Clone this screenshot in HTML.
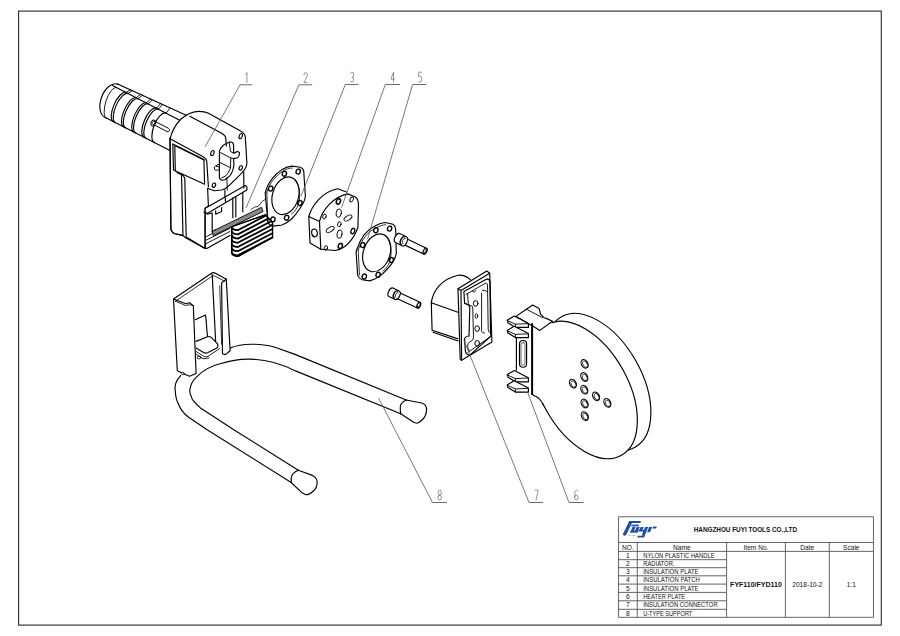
<!DOCTYPE html>
<html><head><meta charset="utf-8">
<style>
html,body{margin:0;padding:0;background:#fff;width:900px;height:636px;overflow:hidden}
svg{display:block}
.t{font-family:"Liberation Sans",sans-serif;fill:#111}
.k{fill:none;stroke:#000;stroke-width:1.15;stroke-linejoin:round;stroke-linecap:round}
.g{fill:none;stroke:#777;stroke-width:0.7}
.lb{font-family:"Liberation Sans",sans-serif;fill:#888;font-size:11px}
</style></head>
<body>
<svg width="900" height="636" viewBox="0 0 900 636">
<!-- border -->
<rect x="18.6" y="11.1" width="862.7" height="614" fill="none" stroke="#303030" stroke-width="1.15"/>

<!-- title block -->
<g id="tb" fill="none" stroke="#555" stroke-width="0.9">
<rect x="618.6" y="516.8" width="254.8" height="100.5"/>
<path d="M618.6 542.5H873.4M618.6 551.4H873.4M618.6 559.7H726.6M618.6 567.7H726.6M618.6 575.8H726.6M618.6 584.1H726.6M618.6 592.4H726.6M618.6 600.8H726.6M618.6 609.3H726.6M637.3 542.5V617.3M726.6 542.5V617.3M785.4 542.5V617.3M829.3 542.5V617.3"/>
</g>
<g class="t" font-size="6.6" text-anchor="middle">
<text x="627.9" y="549.6">NO.</text>
<text x="681.9" y="549.6">Name</text>
<text x="756" y="549.6">Item No.</text>
<text x="807.3" y="549.6">Date</text>
<text x="851.3" y="549.6">Scale</text>
<text x="627.9" y="558">1</text>
<text x="627.9" y="566">2</text>
<text x="627.9" y="574.1">3</text>
<text x="627.9" y="582.3">4</text>
<text x="627.9" y="590.6">5</text>
<text x="627.9" y="599">6</text>
<text x="627.9" y="607.4">7</text>
<text x="627.9" y="615.7">8</text>
<text x="807.3" y="587">2018-10-2</text>
<text x="851.3" y="587">1:1</text>
</g>
<g class="t" font-size="6.6">
<text x="643.2" y="558" textLength="71.4" lengthAdjust="spacingAndGlyphs">NYLON PLASTIC HANDLE</text>
<text x="643.2" y="566" textLength="31.3" lengthAdjust="spacingAndGlyphs">RADIATOR.</text>
<text x="643.2" y="574.1" textLength="55.4" lengthAdjust="spacingAndGlyphs">INSULATION PLATE</text>
<text x="643.2" y="582.3" textLength="56.7" lengthAdjust="spacingAndGlyphs">INSULATION PATCH</text>
<text x="643.2" y="590.6" textLength="55.4" lengthAdjust="spacingAndGlyphs">INSULATION PLATE</text>
<text x="643.2" y="599" textLength="42.0" lengthAdjust="spacingAndGlyphs">HEATER PLATE</text>
<text x="643.2" y="607.4" textLength="74.5" lengthAdjust="spacingAndGlyphs">INSULATION CONNECTOR</text>
<text x="643.2" y="615.7" textLength="49.1" lengthAdjust="spacingAndGlyphs">U-TYPE SUPPORT</text>
</g>
<text class="t" x="756" y="587" font-size="7" font-weight="bold" text-anchor="middle">FYF110/FYD110</text>
<text class="t" x="693.7" y="532.4" font-size="7" font-weight="bold" fill="#111" textLength="103.3" lengthAdjust="spacingAndGlyphs">HANGZHOU FUYI TOOLS CO.,LTD</text>
<g id="logo" fill="#1d50a5">
<path d="M629.40 521.00L641.00 520.90L640.40 523.00L628.50 523.10Z"/>
<path d="M629.40 521.00L633.00 521.00L626.00 535.25L624.00 535.75L622.75 534.25Z"/>
<path d="M631.75 524.75L639.00 524.60L638.50 526.35L631.10 526.50Z"/>
<path d="M632.50 527.00L635.60 527.00L633.40 532.50L630.25 532.50Z"/>
<path d="M636.60 527.00L639.70 527.00L637.50 532.50L634.35 532.50Z"/>
<path d="M630.50 530.75L637.75 530.75L637.25 532.50L630.00 532.50Z"/>
<path d="M640.60 527.00L643.70 527.00L641.90 531.00L638.80 531.00Z"/>
<path d="M645.10 527.00L648.20 527.00L644.10 537.60L637.25 537.60L638.00 535.60L641.50 535.60Z"/>
<path d="M639.00 529.75L646.25 529.75L645.50 531.50L638.25 531.50Z"/>
<path d="M649.10 527.00L652.20 527.00L650.10 532.10L647.00 532.50Z"/>
<path d="M653.00 526.40L656.90 526.40L656.10 528.50L652.40 528.50Z"/>
<path d="M628.2 534.3h14.2v1.5h-14.2z" fill="#fff"/>
<text x="628.4" y="535.9" font-family="Liberation Sans" font-size="2.2" fill="#555" textLength="13.8" lengthAdjust="spacingAndGlyphs">F U Y I</text>
</g>

<!-- PARTS -->
<g id="parts" class="k">
<!-- part 1: handle cylinder -->
<path d="M117.6 84.1L190 117.0M105.4 117.6L170 150.5M112.5 85.5L184 122.4"/>
<path d="M117.60 84.10A17.83 10.8 110.0 0 0 105.40 117.60"/>
<path d="M116.20 87.41A16.10 5.5 107.9 0 0 106.30 118.06" stroke-width="0.9"/>
<path d="M126.10 92.52A15.90 6.2 113.5 0 0 113.40 121.68"/>
<path d="M126.10 92.52L130.30 89.88" stroke-width="0.9"/>
<path d="M128.00 93.50A15.90 6.2 113.5 0 0 115.30 122.65"/>
<path d="M128.00 93.50L132.20 90.74" stroke-width="0.9"/>
<path d="M136.20 97.73A15.88 6.2 113.4 0 0 123.60 126.88"/>
<path d="M136.20 97.73L140.40 94.47" stroke-width="0.9"/>
<path d="M138.10 98.71A15.87 6.2 113.4 0 0 125.50 127.85"/>
<path d="M138.10 98.71L142.30 95.34" stroke-width="0.9"/>
<path d="M146.30 102.94A15.86 6.2 113.2 0 0 133.80 132.08"/>
<path d="M146.30 102.94L150.50 99.07" stroke-width="0.9"/>
<path d="M148.20 103.92A15.85 6.2 113.2 0 0 135.70 133.05"/>
<path d="M148.20 103.92L152.40 99.93" stroke-width="0.9"/>
<path d="M156.40 108.15A15.83 6.2 113.1 0 0 144.00 137.29"/>
<path d="M156.40 108.15L160.60 103.66" stroke-width="0.9"/>
<path d="M158.30 109.13A15.83 6.2 113.1 0 0 145.90 138.25"/>
<path d="M158.30 109.13L162.50 104.53" stroke-width="0.9"/>
<path d="M166.00 113.11A15.85 6.8 111.3 0 0 154.50 142.64"/>
<path d="M166.00 113.11L170.20 108.03" stroke-width="0.9"/>
<!-- pin -->
<path d="M154.5 121.2L168.6 128.4A1.7 1.7 0 0 1 167 131.5L152.8 124.2Z" fill="#fff" stroke-width="0.95"/>
<ellipse cx="153.3" cy="123" rx="2.2" ry="3" transform="rotate(25 153.3 123)" fill="#fff" stroke-width="0.95"/>
<ellipse cx="153.6" cy="122.9" rx="1.2" ry="1.8" transform="rotate(25 153.6 122.9)" stroke-width="0.7"/>
<!-- body top -->
<path d="M170 139C172 131 176 124 181 119C187 114 193 111.4 199 111.4C203 111.4 206 112 208 113L240.6 131Q245 133.5 245.3 137L246.9 163.2Q246.5 168 242.2 172.6L229.6 185.2Q226 189 221.7 190L213.9 190.7L207.6 188.3L208.4 206L205.1 208.3L205.1 248.4L185.6 237.8L182.7 235.4L175 233.8Q171.5 232.5 170.9 229Z" fill="#fff"/>
<path d="M189.8 116.3L221.7 133.3Q225.5 135.5 225.7 138L226.4 145.9"/>
<path d="M169.6 138.4L203.6 156.9Q206.5 158.5 206.8 161.6L208.4 186.8"/>
<!-- screen window -->
<path d="M172.8 143.9L203.9 159.5L204.6 184.2L173.5 170.1Z"/>
<path d="M174.8 145.6L203.9 160.1M174.8 145.6L175.3 171"/>
<!-- slot -->
<path d="M229.7 142.1C226 143 222.5 146 222.6 146C220.5 148 219.6 150 219.4 151.5L219.4 177.5Q220 180 221.8 180.2L225 179.8L226.9 178.3"/>
<path d="M229.7 142.1Q232 141.8 232.8 142.9Q233.6 144 233.6 146L233.6 153.1L237.5 151.5Q239.8 152 239.5 153.5Q239.3 156 237.5 157.8L233.6 158.6C234.3 163 234 167 232.8 170.4C231.8 173 230.5 175 229.7 175.9L226.9 178.3"/>
<path d="M229.3 142.9L230.5 151.5L233.6 153.1M230.8 157.8L230.5 168Q228.5 173.5 225.7 175.9L221.8 177.9" stroke-width="0.95"/>
<path d="M219.8 152.3L230.5 157.8L233.6 158.6M219.8 162.5L229.7 167.3" stroke-width="0.95"/>
<path d="M219.4 164.1L215.9 165.7Q214 167 214.3 168Q215 170.5 216.3 170.4L219.4 169.6M216.5 166.5L219.4 167" stroke-width="0.95"/>
<path d="M226.9 178.3L227.3 190" stroke-width="0.9"/>
<ellipse cx="240.7" cy="136.1" rx="1.5" ry="2.7" transform="rotate(20 240.7 136.1)"/>
<ellipse cx="212.4" cy="153.1" rx="1.5" ry="2.7" transform="rotate(20 212.4 153.1)"/>
<ellipse cx="240.7" cy="167.9" rx="1.6" ry="2.2" transform="rotate(20 240.7 167.9)"/>
<ellipse cx="213.9" cy="185.2" rx="1.6" ry="2.2" transform="rotate(20 213.9 185.2)"/>
<!-- lower body -->
<path d="M170 139L170.9 229Q171.5 232.5 175 233.8L182.7 235.4"/>
<path d="M177 172.7L183.3 175.6L184.8 178.4L186.2 237.1L205.1 248.4L206.9 248.4L229.9 235.4"/>
<path d="M181.5 174.5L183 235.8"/>
<path d="M205.1 248.4L205.1 213L203.9 211.8"/>
<path d="M205.3 208.3L245.2 185.5Q247.8 186.5 246.8 190L207.3 213.6Q204.5 212.8 205.3 208.3Z" fill="#fff"/>
<path d="M225.1 197L225.5 201.5M224.9 190L224.9 197"/>
<path d="M207.5 214.2L212.2 213L212.2 231.9M215.7 214.2L215.7 210.7M221.6 211.5L221.6 207.5M215.7 214.2L221.6 211.5M212.2 231.9L216 229.5"/>
<path d="M232.8 197.7L232.8 217.7M235.8 197.1L235.8 217M242.8 193L242.8 211.8M243.7 172L243.9 188"/>
<path d="M206.3 236.6L229.9 224.8M206.3 240.1L229.9 228.3M205.3 244L229.9 231.5" stroke-width="0.9"/>
<!-- part 2: radiator -->
<path d="M212.6 231.2L261.5 207.3L263 211.5L213.5 235.5Z" fill="#8a8a8a" stroke-width="0.9"/>
<path d="M231.7 226.7L265.4 214.9L272.5 222.7L272.5 237.4L238 256.5Q232 256 231.7 252.5Z" fill="#fff"/>
<g stroke-width="1.8">
<path d="M231.7 226.8Q232 230.0 237.8 230.2L266.0 215.5"/>
<path d="M231.7 231.0Q232 234.2 237.8 234.4L268.6 218.4"/>
<path d="M231.7 235.2Q232 238.4 237.8 238.6L271.2 221.2"/>
<path d="M231.7 239.4Q232 242.6 237.8 242.8L272.5 224.8"/>
<path d="M231.7 243.6Q232 246.8 237.8 247.0L272.5 229.0"/>
<path d="M231.7 247.8Q232 251.0 237.8 251.2L272.5 233.2"/>
<path d="M231.7 252.0Q232 255.2 237.8 255.4L272.5 237.4"/>
</g>
<path d="M231.7 226.7L265.4 214.9L272.5 222.7L272.5 237.4L238 256.5Q232 256 231.7 252.5Z"/>
<path d="M251 209.5Q254 206 258 206.5M258.5 206.2L262 201.5L266 199" stroke-width="0.8"/>
<!-- part 3 -->
<path d="M265.2 193C267 186 269.5 182 272.3 178.7C275.5 174.5 278.5 172 282.2 169.4C285.5 167.3 288.5 166.3 292.1 166.1L300.4 167.2Q303 168 303.7 171L305.4 196.3Q305 200 303 203.5L299.9 208.5C297 213 294 216.5 291 219.5C288 222 285 224 282.2 225L273.4 226.1Q270 225.5 267.9 222.8Z"/>
<path d="M266.8 193C268.5 186.5 271 182.5 273.8 179.5C277 175.5 280 173 283.5 170.8C286.5 168.9 289.5 168 292.5 168M266.8 193L267.9 221.7" stroke-width="0.8"/>
<ellipse cx="285.5" cy="195.8" rx="13" ry="19.3" transform="rotate(17 285.5 195.8)"/>
<path d="M293.8 178.5C298 183 300 190 299.6 198C299 205 296 211 291.5 214" stroke-width="0.8"/>
<g stroke-width="1.35">
<ellipse cx="284.4" cy="173.8" rx="2.1" ry="2.5" transform="rotate(20 284.4 173.8)"/>
<ellipse cx="298.2" cy="171.6" rx="2.1" ry="2.5" transform="rotate(20 298.2 171.6)"/>
<ellipse cx="270.7" cy="188.6" rx="2.1" ry="2.5" transform="rotate(20 270.7 188.6)"/>
<ellipse cx="299.9" cy="203" rx="2.1" ry="2.5" transform="rotate(20 299.9 203)"/>
<ellipse cx="272.9" cy="219.5" rx="2.1" ry="2.5" transform="rotate(20 272.9 219.5)"/>
<ellipse cx="286.6" cy="217.8" rx="2.1" ry="2.5" transform="rotate(20 286.6 217.8)"/>
</g>
<!-- part 4 -->
<path d="M308.8 216.5C312 205 322 192 337.7 188.8L346.5 192"/>
<path d="M308.8 216.5L319.5 221.5L320.8 249.2L310 243Z"/>
<path d="M319.5 221.5C322 210 333 197 347.8 193.9L355.3 197Q358.5 199 358.5 205L357.9 227.8C353 240 345 249 335.2 250.5L320.8 249.2"/>
<ellipse cx="314.5" cy="232.9" rx="2.8" ry="3.9" transform="rotate(-10 314.5 232.9)"/>
<g stroke-width="0.9">
<ellipse cx="339.3" cy="224.2" rx="1.7" ry="2.6" transform="rotate(15 339.3 224.2)"/>
<ellipse cx="338.7" cy="213.2" rx="2.6" ry="4.2" transform="rotate(8 338.7 213.2)"/>
<ellipse cx="339.5" cy="234.2" rx="2.5" ry="4.2" transform="rotate(8 339.5 234.2)"/>
<ellipse cx="330.2" cy="229.5" rx="2.1" ry="4.5" transform="rotate(58 330.2 229.5)"/>
<ellipse cx="348" cy="218" rx="2.1" ry="4.5" transform="rotate(58 348 218)"/>
<ellipse cx="338.4" cy="201.4" rx="2" ry="2.8" transform="rotate(20 338.4 201.4)" stroke-width="1.5"/>
<ellipse cx="351.6" cy="199.5" rx="1.6" ry="2.6" transform="rotate(25 351.6 199.5)"/>
<ellipse cx="324.5" cy="216.5" rx="1.6" ry="2.6" transform="rotate(20 324.5 216.5)"/>
<ellipse cx="352.8" cy="231" rx="1.8" ry="2.8" transform="rotate(20 352.8 231)" stroke-width="1.3"/>
<ellipse cx="325.8" cy="248" rx="1.6" ry="2.4" transform="rotate(20 325.8 248)"/>
<ellipse cx="340.3" cy="246" rx="2" ry="2.6" transform="rotate(20 340.3 246)" stroke-width="1.5"/>
</g>
<!-- part 5 -->
<path d="M356.6 250C358.5 244 361 239 364.3 234.6C367.5 230.5 371 228 375.3 225.8C378.5 224 381.5 222.8 385.2 222.5L393 224.2Q395.2 225.5 395.7 229.1L396.3 253.3Q395.5 258.5 391.9 263.3C389 267.5 385 271.5 380.8 275.4C377.5 278 373.5 280 369.8 280.9L362.1 279.8Q359 278.5 357.7 275.4L356.1 252.2Z"/>
<path d="M358.2 250C360 244.5 362.5 240 365.7 236C369 232 372.5 229.5 376.5 227.6C379.5 226 382.5 225 385.5 224.7M358.2 250L359.5 275" stroke-width="0.8"/>
<ellipse cx="376.7" cy="252.8" rx="13.3" ry="19.5" transform="rotate(19 376.7 252.8)"/>
<path d="M385.5 235.5C389.5 240 391.5 247 391 255C390.5 262 387.5 268 383 271" stroke-width="0.8"/>
<g stroke-width="1.35">
<ellipse cx="375.9" cy="230.2" rx="2.1" ry="2.5" transform="rotate(20 375.9 230.2)"/>
<ellipse cx="389.6" cy="228.6" rx="2.1" ry="2.5" transform="rotate(20 389.6 228.6)"/>
<ellipse cx="362.7" cy="245.1" rx="2.1" ry="2.5" transform="rotate(20 362.7 245.1)"/>
<ellipse cx="391.3" cy="260" rx="2.1" ry="2.5" transform="rotate(20 391.3 260)"/>
<ellipse cx="364.3" cy="276.5" rx="2.1" ry="2.5" transform="rotate(20 364.3 276.5)"/>
<ellipse cx="378.1" cy="274.8" rx="2.1" ry="2.5" transform="rotate(20 378.1 274.8)"/>
</g>
<!-- screw 1 -->
<path d="M405.65 238.34L426.38 248.21A3.2 1.76 115.5 0 1 423.62 253.99L402.89 244.11Z" fill="#fff"/>
<ellipse cx="425.00" cy="251.10" rx="3.20" ry="1.76" transform="rotate(115.5 425.00 251.10)" stroke-width="0.9"/>
<ellipse cx="424.73" cy="250.97" rx="1.92" ry="1.06" transform="rotate(115.5 424.73 250.97)" stroke-width="0.6"/>
<path d="M399.65 233.49L406.42 236.71A5.0 2.75 115.5 0 1 402.12 245.74L395.35 242.51A5.0 2.75 115.5 0 1 399.65 233.49Z" fill="#fff"/>
<path d="M404.72 236.79A4.20 2.31 115.5 0 0 401.11 244.37" stroke-width="1.4"/>
<path d="M405.39 238.40A3.03 1.67 115.5 0 0 402.79 243.87" stroke-width="0.8"/>
<!-- screw 2 -->
<path d="M398.49 292.32L420.03 302.34A3.15 1.73 115.0 0 1 417.37 308.06L395.83 298.03Z" fill="#fff"/>
<ellipse cx="418.70" cy="305.20" rx="3.15" ry="1.73" transform="rotate(115.0 418.70 305.20)" stroke-width="0.9"/>
<ellipse cx="418.43" cy="305.07" rx="1.89" ry="1.04" transform="rotate(115.0 418.43 305.07)" stroke-width="0.6"/>
<path d="M392.98 288.04L399.15 290.91A4.7 2.59 115.0 0 1 395.18 299.43L389.02 296.56A4.7 2.59 115.0 0 1 392.98 288.04Z" fill="#fff"/>
<path d="M397.45 291.00A3.90 2.15 115.0 0 0 394.16 298.07" stroke-width="1.4"/>
<path d="M398.14 292.61A2.73 1.50 115.0 0 0 395.83 297.56" stroke-width="0.8"/>
<!-- part 6 heater plate -->
<ellipse cx="598.1" cy="382.1" rx="74.97" ry="43.33" transform="rotate(60.46 598.1 382.1)" fill="#fff"/>
<ellipse cx="584.56" cy="389.92" rx="74.97" ry="43.33" transform="rotate(60.46 584.56 389.92)" fill="#fff"/>
<g stroke-width="1.1">
<ellipse cx="584.6" cy="363.8" rx="3.2" ry="4.6" transform="rotate(-28 584.6 363.8)"/>
<ellipse cx="584.3" cy="377" rx="3.2" ry="4.6" transform="rotate(-28 584.3 377)"/>
<ellipse cx="572.9" cy="383.6" rx="3.2" ry="4.6" transform="rotate(-28 572.9 383.6)"/>
<ellipse cx="584.3" cy="389.7" rx="3.2" ry="4.6" transform="rotate(-28 584.3 389.7)"/>
<ellipse cx="596.1" cy="396.3" rx="3.2" ry="4.6" transform="rotate(-28 596.1 396.3)"/>
<ellipse cx="607.4" cy="402.9" rx="3.2" ry="4.6" transform="rotate(-28 607.4 402.9)"/>
<ellipse cx="584.6" cy="403.5" rx="3.2" ry="4.6" transform="rotate(-28 584.6 403.5)"/>
<ellipse cx="584.8" cy="416.1" rx="3.2" ry="4.6" transform="rotate(-28 584.8 416.1)"/>
</g>
<g stroke-width="0.7">
<ellipse cx="585.1" cy="364.2" rx="2.2" ry="3.5" transform="rotate(-28 585.1 364.2)"/>
<ellipse cx="584.8" cy="377.4" rx="2.2" ry="3.5" transform="rotate(-28 584.8 377.4)"/>
<ellipse cx="573.4" cy="384.0" rx="2.2" ry="3.5" transform="rotate(-28 573.4 384.0)"/>
<ellipse cx="584.8" cy="390.1" rx="2.2" ry="3.5" transform="rotate(-28 584.8 390.1)"/>
<ellipse cx="596.6" cy="396.7" rx="2.2" ry="3.5" transform="rotate(-28 596.6 396.7)"/>
<ellipse cx="607.9" cy="403.3" rx="2.2" ry="3.5" transform="rotate(-28 607.9 403.3)"/>
<ellipse cx="585.1" cy="403.9" rx="2.2" ry="3.5" transform="rotate(-28 585.1 403.9)"/>
<ellipse cx="585.3" cy="416.5" rx="2.2" ry="3.5" transform="rotate(-28 585.3 416.5)"/>
</g>
<!-- bracket -->
<path d="M516.4 330L530.5 324.7L552.5 321.2L548 335L543.1 404.5L534.4 395.8L532.1 394.3L516.4 372Z" fill="#fff" stroke="none"/>
<path d="M515.7 316.6L526.4 309.2L532.7 305L539.1 308.5L540.5 314.2L544 317.7L546.2 318.4L552.5 321.2L539.8 330.4L532 325.5L527.8 323.4Z" fill="#fff"/>
<path d="M515.7 316.6L527.8 323.4" stroke-width="1.4"/>
<path d="M526.4 309.2L542.6 317.7" stroke-width="0.9"/>
<path d="M532.1 324L532.1 394.3" stroke-width="2"/>
<path d="M516.4 337.9L516.4 370M532.1 394.3L534.4 395.8C538 397 540.5 399 543.1 404.5"/>
<rect x="519.5" y="340.5" width="7.1" height="26.7" rx="3.5"/>
<rect x="521" y="342.5" width="4" height="22.7" rx="2" stroke-width="0.6"/>
<path d="M507.2 320.2L514.3 316.1L528.3 323.4L528.5 327.4L515.4 327.4L508.0 322.8Z" fill="#fff"/>
<path d="M507.4 320.6L515.4 324.2L528.5 323.6M515.4 324.2L515.4 327.4" stroke-width="0.9"/>
<path d="M507.2 330.4L514.3 326.3L528.3 333.6L528.5 337.6L515.4 337.6L508.0 333.0Z" fill="#fff"/>
<path d="M507.4 330.8L515.4 334.4L528.5 333.8M515.4 334.4L515.4 337.6" stroke-width="0.9"/>
<path d="M507.2 374.6L514.3 370.5L528.3 377.8L528.5 381.8L515.4 381.8L508.0 377.2Z" fill="#fff"/>
<path d="M507.4 375.0L515.4 378.6L528.5 378.0M515.4 378.6L515.4 381.8" stroke-width="0.9"/>
<path d="M507.2 384.9L514.3 380.8L528.3 388.1L528.5 392.1L515.4 392.1L508.0 387.5Z" fill="#fff"/>
<path d="M507.4 385.3L515.4 388.9L528.5 388.3M515.4 388.9L515.4 392.1" stroke-width="0.9"/>
<!-- part 7 insulation connector -->
<path d="M431.3 302.7C433 290 442 279 458 275.2Q465 274.5 470.6 279.9"/>
<path d="M431.3 302.7L432.1 330.3M431.3 302.7L458 312.2M432.1 330.3L458 338.9M433 332.3L458 341" />
<path d="M458 288.7L486.8 271L489.7 273.2L491.9 342L461.6 360.3L460.2 359.5Z" fill="#fff"/>
<path d="M458 288.7L461 290.4L489.7 273.2M461 290.4L461.6 360.3"/>
<path d="M463.9 291.6L486.8 279.1Q489.8 279 490 282L490.5 333L491 336L469.8 355.1Q466 355 465.3 350.7L464.6 338.9Q464.8 336.5 469 336L469.8 307.9Q469.5 304.5 464.6 303.4Z"/>
<path d="M466 294.5L485.8 283Q487.3 283 487.5 285L488.2 330Q488.5 332.5 491.2 333M467.6 293.8L468.3 303.4Q469 305.8 472.7 306.4L473.5 337.4Q473.5 340.5 469.8 341.9Q467.5 343 467.5 346.5L469 350.7" stroke-width="0.9"/>
<path d="M482.3 290.2Q485.5 289.5 486.8 291.6M481.6 293.1L481.6 331.5Q482 333 484.5 333M467.8 352.5L488.5 338" stroke-width="0.9"/>
<ellipse cx="475.7" cy="303.4" rx="2.3" ry="2.8" stroke-width="1"/>
<ellipse cx="476.4" cy="316" rx="1.3" ry="2.3" stroke-width="0.9"/>
<ellipse cx="477.2" cy="328.6" rx="2.3" ry="2.8" stroke-width="1"/>
<ellipse cx="477.2" cy="343.3" rx="2.3" ry="2.8" stroke-width="1"/>
<path d="M472.5 291.5Q474.2 293.5 476 290.5" stroke-width="0.9"/>

<!-- part 8 U support: tube -->
<path d="M180.7 375.6C176 380 174.5 386 175.2 389.7C175.5 396 176.5 400 177.6 402.3C180 409 184 414 188.6 417.3L207.5 430L291.2 482.5"/>
<path d="M298.3 470.2L234.2 430L201.2 408.6C195 403 191.5 399.5 191.7 397.6C189.5 393 189.5 390 190.2 388.2C191 383 193.5 380 196.4 377.2C203 370 211 366 220 363.8C230 360.5 240 359.1 248.3 359.1C265 359 280 363 295.5 370.9L400.7 413.8"/>
<path d="M230.3 348C238 344.5 245 344.2 251.5 344.2C260 344.2 268 345 275 347.3L295 354.4L406.2 400"/>
<path d="M406.2 400C402 402 400 405 400.3 407.5C400.2 410 400.4 412 400.7 413.8"/>
<path d="M406.2 400L422.7 403.2Q426.6 405 426.6 409.9Q426 416 423.5 418.5Q420 422.5 417.2 423.2L414 422.5L400.7 413.8"/>
<path d="M298.3 470.2C294 472 291.5 475 291.2 477.7L291.2 482.5"/>
<path d="M298.3 470.2L312.5 475.4Q317.2 478 317.2 482.5Q317 488 313.4 491Q309 495 305.8 494.7L302.1 492.8L291.2 482.5"/>
<!-- bracket -->
<path d="M173.5 299L211.5 273.3Q213.5 272 215.5 273.3L226.3 279.2L230.1 350.8L225.4 354.6L196.1 373.5L189.5 376.3L182.9 373.5L177.3 370.7Z" fill="#fff" stroke="none"/>
<path d="M173.5 299L211.5 273.3Q213.5 272 215.5 273.3L226.3 279.2"/>
<path d="M175.5 301.2L212 276.3Q213.7 275.3 215.3 276.3L224.5 281.3" stroke-width="0.8"/>
<path d="M173.5 299L177.3 370.7L182.9 373.5L189.5 376.3L196.1 373.5L193.3 305.6L189.5 302.7L185.8 303.7L173.5 299"/>
<path d="M175.5 301.2L185.8 305.6Q188 304.5 189.5 304.8L193.3 305.6" stroke-width="0.8"/>
<path d="M212.2 274.4L215.9 346.1"/>
<path d="M226.3 279.2L221.6 282.9L222.5 353.7L225.4 354.6L230.1 350.8L226.3 279.2"/>
<path d="M219.7 285.8L221.6 344.2" stroke-width="0.8"/>
<path d="M195.2 319.7L205.6 315L207.5 336.7"/>
<path d="M196.1 341.4L207.5 336.7Q209 336.2 211 337.2L217.8 344.2Q218.2 346.8 216.9 348L207.5 352.7Q205.5 353.5 203.5 352.5L196.1 348" fill="#fff"/>
<path d="M196.1 351.5L204 356.5Q206 357.3 208 356.3L219.7 348.5M196.1 354L203 358.8L209 358" stroke-width="0.85"/>
<ellipse cx="199" cy="357.5" rx="2" ry="1.4" stroke-width="0.8"/>
<circle cx="182.9" cy="373.5" r="1.3" stroke-width="0.8" fill="#fff"/>

</g>
<!-- labels -->
<g fill="none" stroke="#666" stroke-width="0.75" stroke-linecap="round" stroke-linejoin="round">
<path transform="translate(244.7 72.6) scale(0.85 1)" d="M1 1.6L2.6 0L2.6 10"/>
<path transform="translate(303.9 72.6) scale(0.85 1)" d="M0 2.2Q0.2 0 2 0Q4 0 4 2.5Q4 4.2 0 10L4 10"/>
<path transform="translate(350.3 72.2) scale(0.85 1)" d="M0 1Q0.8 0 2 0Q4 0 4 2.5Q4 5 1.8 5Q4 5 4 7.5Q4 10 2 10Q0.8 10 0 9"/>
<path transform="translate(391.0 72.2) scale(0.85 1)" d="M3 10L3 0L0 7L4 7"/>
<path transform="translate(418.3 72.2) scale(0.85 1)" d="M4 0L0.5 0L0.2 4.6Q1 4 2 4Q4 4 4 7Q4 10 2 10Q0.8 10 0 9"/>
<path transform="translate(438.0 490.1) scale(0.85 1)" d="M2 5Q0 5 0 2.5Q0 0 2 0Q4 0 4 2.5Q4 5 2 5Q0 5 0 7.5Q0 10 2 10Q4 10 4 7.5Q4 5 2 5"/>
<path transform="translate(534.9 490.1) scale(0.85 1)" d="M0 0L4 0L1.4 10"/>
<path transform="translate(574.7 490.1) scale(0.85 1)" d="M3.8 1Q3.2 0 2 0Q0 0 0 5L0 7.5Q0 10 2 10Q4 10 4 7.5Q4 5 2 5Q0 5 0 7.2"/>
</g>
<g fill="none" stroke="#555" stroke-width="0.8">
<path d="M240 84.8L205.1 146.8"/>
<path d="M298.9 84.8L246 208"/>
<path d="M345.3 84.5L301 196"/>
<path d="M385.3 84.5L341.5 207.7"/>
<path d="M412.6 84.5L367.6 238.9"/>
<path d="M432.5 502.5L378.6 398.1"/>
<path d="M529 502.5L463.7 339.6"/>
<path d="M569 502.5L527.5 392"/>
</g>
<g fill="none" stroke="#6a6a6a" stroke-width="1">
<path d="M252.2 84.8H240M312.2 84.8H298.9M358.5 84.5H345.3M400 84.5H385.3M426.5 84.5H412.6M446.7 502.5H432.5M543 502.5H529M583.6 502.5H569"/>
</g>

</svg>
</body></html>
